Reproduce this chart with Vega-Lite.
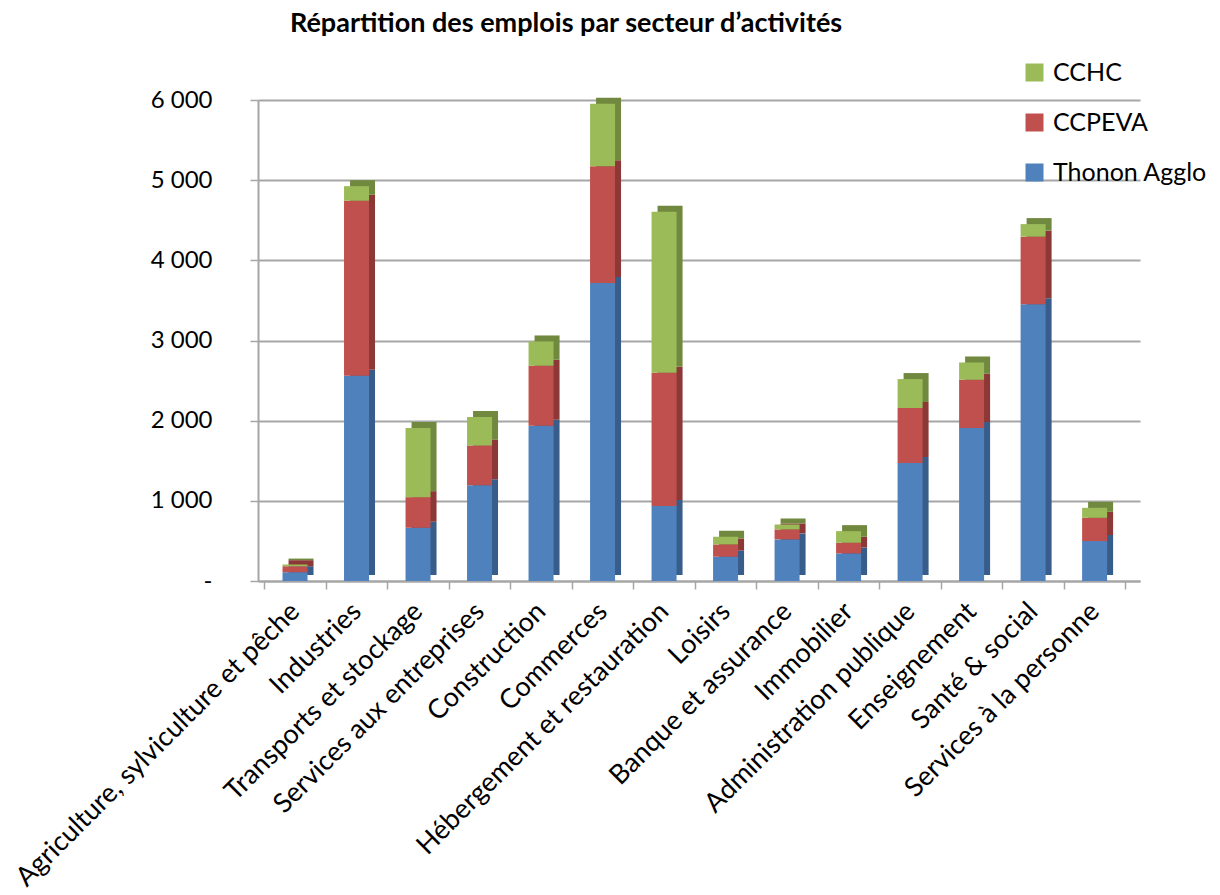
{
  "$schema": "https://vega.github.io/schema/vega-lite/v6.json",
  "autosize": {"type": "none"},
  "padding": {"left": 258, "top": 100, "right": 80, "bottom": 314},
  "width": 882,
  "height": 481,
  "background": "white",
  "config": {"font": "Lato", "view": {"stroke": null}},
  "title": {"text": "Répartition des emplois par secteur d’activités", "fontSize": 27, "fontWeight": "bold", "font": "Lato", "anchor": "start", "frame": "group", "dx": 32, "offset": 22, "color": "black"},
  "data": {"values": [
    {"secteur": "Agriculture, sylviculture et pêche", "grp": "Thonon Agglo", "ord": 1, "v": 110},
    {"secteur": "Agriculture, sylviculture et pêche", "grp": "CCPEVA", "ord": 2, "v": 75},
    {"secteur": "Agriculture, sylviculture et pêche", "grp": "CCHC", "ord": 3, "v": 20},
    {"secteur": "Industries", "grp": "Thonon Agglo", "ord": 1, "v": 2560},
    {"secteur": "Industries", "grp": "CCPEVA", "ord": 2, "v": 2183},
    {"secteur": "Industries", "grp": "CCHC", "ord": 3, "v": 182},
    {"secteur": "Transports et stockage", "grp": "Thonon Agglo", "ord": 1, "v": 664},
    {"secteur": "Transports et stockage", "grp": "CCPEVA", "ord": 2, "v": 382},
    {"secteur": "Transports et stockage", "grp": "CCHC", "ord": 3, "v": 863},
    {"secteur": "Services aux entreprises", "grp": "Thonon Agglo", "ord": 1, "v": 1195},
    {"secteur": "Services aux entreprises", "grp": "CCPEVA", "ord": 2, "v": 494},
    {"secteur": "Services aux entreprises", "grp": "CCHC", "ord": 3, "v": 357},
    {"secteur": "Construction", "grp": "Thonon Agglo", "ord": 1, "v": 1938},
    {"secteur": "Construction", "grp": "CCPEVA", "ord": 2, "v": 747},
    {"secteur": "Construction", "grp": "CCHC", "ord": 3, "v": 303},
    {"secteur": "Commerces", "grp": "Thonon Agglo", "ord": 1, "v": 3718},
    {"secteur": "Commerces", "grp": "CCPEVA", "ord": 2, "v": 1456},
    {"secteur": "Commerces", "grp": "CCHC", "ord": 3, "v": 780},
    {"secteur": "Hébergement et restauration", "grp": "Thonon Agglo", "ord": 1, "v": 934},
    {"secteur": "Hébergement et restauration", "grp": "CCPEVA", "ord": 2, "v": 1664},
    {"secteur": "Hébergement et restauration", "grp": "CCHC", "ord": 3, "v": 2008},
    {"secteur": "Loisirs", "grp": "Thonon Agglo", "ord": 1, "v": 303},
    {"secteur": "Loisirs", "grp": "CCPEVA", "ord": 2, "v": 153},
    {"secteur": "Loisirs", "grp": "CCHC", "ord": 3, "v": 96},
    {"secteur": "Banque et assurance", "grp": "Thonon Agglo", "ord": 1, "v": 519},
    {"secteur": "Banque et assurance", "grp": "CCPEVA", "ord": 2, "v": 124},
    {"secteur": "Banque et assurance", "grp": "CCHC", "ord": 3, "v": 62},
    {"secteur": "Immobilier", "grp": "Thonon Agglo", "ord": 1, "v": 344},
    {"secteur": "Immobilier", "grp": "CCPEVA", "ord": 2, "v": 133},
    {"secteur": "Immobilier", "grp": "CCHC", "ord": 3, "v": 145},
    {"secteur": "Administration publique", "grp": "Thonon Agglo", "ord": 1, "v": 1473},
    {"secteur": "Administration publique", "grp": "CCPEVA", "ord": 2, "v": 685},
    {"secteur": "Administration publique", "grp": "CCHC", "ord": 3, "v": 361},
    {"secteur": "Enseignement", "grp": "Thonon Agglo", "ord": 1, "v": 1909},
    {"secteur": "Enseignement", "grp": "CCPEVA", "ord": 2, "v": 601},
    {"secteur": "Enseignement", "grp": "CCHC", "ord": 3, "v": 216},
    {"secteur": "Santé & social", "grp": "Thonon Agglo", "ord": 1, "v": 3452},
    {"secteur": "Santé & social", "grp": "CCPEVA", "ord": 2, "v": 843},
    {"secteur": "Santé & social", "grp": "CCHC", "ord": 3, "v": 157},
    {"secteur": "Services à la personne", "grp": "Thonon Agglo", "ord": 1, "v": 498},
    {"secteur": "Services à la personne", "grp": "CCPEVA", "ord": 2, "v": 290},
    {"secteur": "Services à la personne", "grp": "CCHC", "ord": 3, "v": 125}
  ]},
  "encoding": {
    "x": {"field": "secteur", "type": "nominal", "sort": null,
      "scale": {"paddingInner": 0, "paddingOuter": 0.17, "align": 0.3},
      "axis": {"title": null, "labelAngle": -45, "labelAlign": "right", "labelBaseline": "middle", "labelFontSize": 27, "labelColor": "black", "labelPadding": 18, "labelLimit": 0, "tickBand": "extent", "domainColor": "#a6a6a6", "domainWidth": 2, "tickColor": "#a6a6a6", "tickWidth": 1.5, "tickSize": 8, "grid": false}},
    "y": {"field": "v", "type": "quantitative", "stack": "zero",
      "scale": {"domain": [0, 6000], "nice": false},
      "axis": {"title": null, "values": [0, 1000, 2000, 3000, 4000, 5000, 6000], "labelExpr": "datum.value == 0 ? '-' : replace(format(datum.value, ','), ',', ' ')", "labelFontSize": 24, "labelColor": "black", "labelPadding": 38, "domainColor": "#a6a6a6", "domainWidth": 2, "tickColor": "#a6a6a6", "tickSize": 8, "tickWidth": 1.5, "gridColor": "#a6a6a6", "gridWidth": 2}},
    "order": {"field": "ord", "type": "quantitative"}
  },
  "layer": [
    {
      "mark": {"type": "bar", "size": 25, "xOffset": 6, "yOffset": -6},
      "encoding": {
        "color": {"field": "grp", "type": "nominal", "legend": null,
          "scale": {"domain": ["CCHC", "CCPEVA", "Thonon Agglo"], "range": ["#71893f", "#8c3836", "#385d8a"]}}
      }
    },
    {
      "mark": {"type": "bar", "size": 25},
      "encoding": {
        "color": {"field": "grp", "type": "nominal",
          "scale": {"domain": ["CCHC", "CCPEVA", "Thonon Agglo"], "range": ["#9bbb59", "#c0504d", "#4f81bd"]},
          "legend": {"title": null, "orient": "none", "legendX": 764, "legendY": -40, "symbolType": "square", "symbolSize": 324, "symbolStrokeWidth": 0, "labelFontSize": 25, "labelColor": "black", "rowPadding": 24, "labelOffset": 6}}
      }
    }
  ],
  "resolve": {"scale": {"color": "independent"}}
}
